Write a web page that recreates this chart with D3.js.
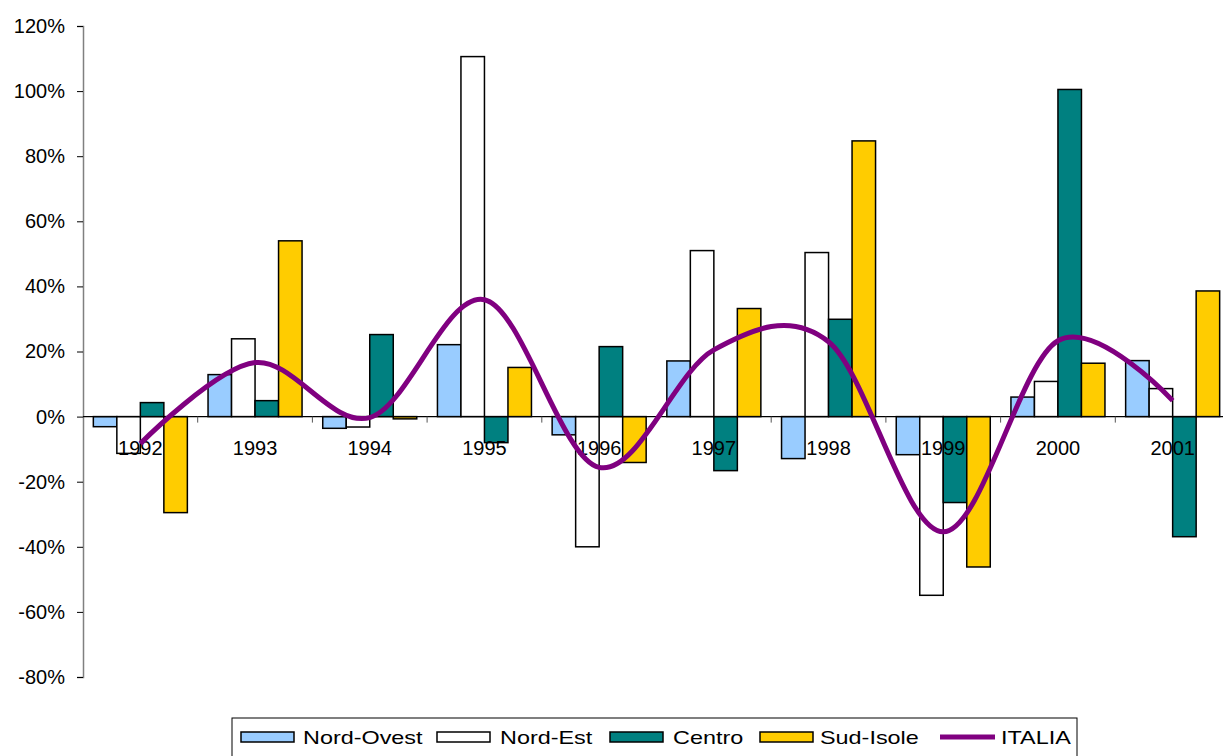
<!DOCTYPE html>
<html lang="en">
<head>
<meta charset="UTF-8">
<title>Variazioni per ripartizione</title>
<style>
    body { margin: 0; background: #fff; }
    svg text { font-family: "Liberation Sans", Arial, sans-serif; fill: #000; }
</style>
</head>
<body>
<svg id="chart" width="1223" height="756"></svg>
<script src="https://cdn.jsdelivr.net/npm/d3@7"></script>
<script>
    // data (percentages)
    var years = ["1992","1993","1994","1995","1996","1997","1998","1999","2000","2001"];
    var series = ["Nord-Ovest","Nord-Est","Centro","Sud-Isole"];
    var nordOvest = [-3.1, 12.9, -3.6, 22.1, -5.6, 17.1, -12.9, -11.7, 6.0, 17.2];
    var nordEst   = [-11.3, 23.9, -3.2, 110.6, -40.0, 51.0, 50.4, -54.9, 10.8, 8.6];
    var centro    = [4.3, 4.9, 25.2, -8.0, 21.5, -16.6, 29.9, -26.4, 100.5, -36.9];
    var sudIsole  = [-29.5, 54.0, -0.7, 15.1, -14.1, 33.2, 84.7, -46.2, 16.4, 38.6];
    var italia    = [-8.3, 16.6, -0.3, 35.9, -15.6, 20.5, 23.0, -35.4, 23.3, 4.9];
    var yTicks = [-80, -60, -40, -20, 0, 20, 40, 60, 80, 100, 120];
    var colors = ["#99ccff", "#ffffff", "#008080", "#ffcc00"];
    var lineColor = "#800080";

    var values = [nordOvest, nordEst, centro, sudIsole];

    var svg = d3.select("#chart");
    var mLeft = 83, mRight = 1230, mTop = 26, mBottom = 677;

    var x0 = d3.scaleBand().domain(years).range([mLeft, mRight]);
    var x1 = d3.scaleBand().domain(series).range([0, x0.bandwidth()]).paddingOuter(0.44);
    var y = d3.scaleLinear().domain([-80, 120]).range([mBottom, mTop]);

    // y axis
    var yAxis = svg.append("g").attr("transform", "translate(" + mLeft + ",0)")
        .call(d3.axisLeft(y).tickValues(yTicks).tickSize(6).tickPadding(12)
            .tickFormat(function (d) { return d + "%"; }));
    yAxis.select(".domain").attr("stroke", "#808080").attr("stroke-width", 1.5);
    yAxis.selectAll(".tick line").attr("stroke", "#000");
    yAxis.selectAll("text").attr("font-size", 20).attr("font-family", "Liberation Sans, Arial, sans-serif");

    // bars
    var groups = svg.append("g").selectAll("g")
        .data(years)
        .enter().append("g")
        .attr("transform", function (d) { return "translate(" + x0(d) + ",0)"; });

    groups.selectAll("rect")
        .data(function (d, i) {
            return series.map(function (s, j) { return { s: s, j: j, v: values[j][i] }; });
        })
        .enter().append("rect")
        .attr("x", function (d) { return x1(d.s); })
        .attr("width", x1.bandwidth())
        .attr("y", function (d) { return y(Math.max(0, d.v)); })
        .attr("height", function (d) { return Math.abs(y(d.v) - y(0)); })
        .attr("fill", function (d) { return colors[d.j]; })
        .attr("stroke", "#000")
        .attr("stroke-width", 1.5);

    // x axis along zero
    var xAxis = svg.append("g").attr("transform", "translate(0," + y(0) + ")");
    xAxis.append("line").attr("x1", mLeft).attr("x2", 1223).attr("stroke", "#000").attr("stroke-width", 1.2);
    xAxis.selectAll(".xt")
        .data(years.slice(1))
        .enter().append("line")
        .attr("x1", function (d) { return x0(d); })
        .attr("x2", function (d) { return x0(d); })
        .attr("y1", 0).attr("y2", 6)
        .attr("stroke", "#555");
    xAxis.selectAll("text")
        .data(years)
        .enter().append("text")
        .attr("x", function (d) { return x0(d) + x0.bandwidth() / 2; })
        .attr("y", 38)
        .attr("text-anchor", "middle")
        .attr("font-size", 20)
        .text(function (d) { return d; });

    // ITALIA smoothed line
    var line = d3.line()
        .x(function (d, i) { return x0(years[i]) + x0.bandwidth() / 2; })
        .y(function (d) { return y(d); })
        .curve(d3.curveCardinal.tension(0));
    svg.append("path")
        .datum(italia)
        .attr("d", line)
        .attr("fill", "none")
        .attr("stroke", lineColor)
        .attr("stroke-width", 5)
        .attr("stroke-linejoin", "round");

    // legend
    var legend = svg.append("g");
    legend.append("rect")
        .attr("x", 232).attr("y", 718).attr("width", 845).attr("height", 60)
        .attr("fill", "#fff").attr("stroke", "#000").attr("stroke-width", 1);

    var items = series.concat(["ITALIA"]);
    var swatchX = [241, 437, 610, 760, 940];
    var textX = [303, 500, 673, 820, 1001];
    items.forEach(function (name, i) {
        var lx = swatchX[i];
        if (i < 4) {
            legend.append("rect")
                .attr("x", lx).attr("y", 732).attr("width", 53).attr("height", 10)
                .attr("fill", colors[i]).attr("stroke", "#000").attr("stroke-width", 1.5);
        } else {
            legend.append("line")
                .attr("x1", lx).attr("x2", lx + 55).attr("y1", 737).attr("y2", 737)
                .attr("stroke", lineColor).attr("stroke-width", 5);
        }
        legend.append("text")
            .attr("transform", "translate(" + textX[i] + ",744) scale(1.3,1)")
            .attr("font-size", 18)
            .text(name);
    });
</script>
</body>
</html>
